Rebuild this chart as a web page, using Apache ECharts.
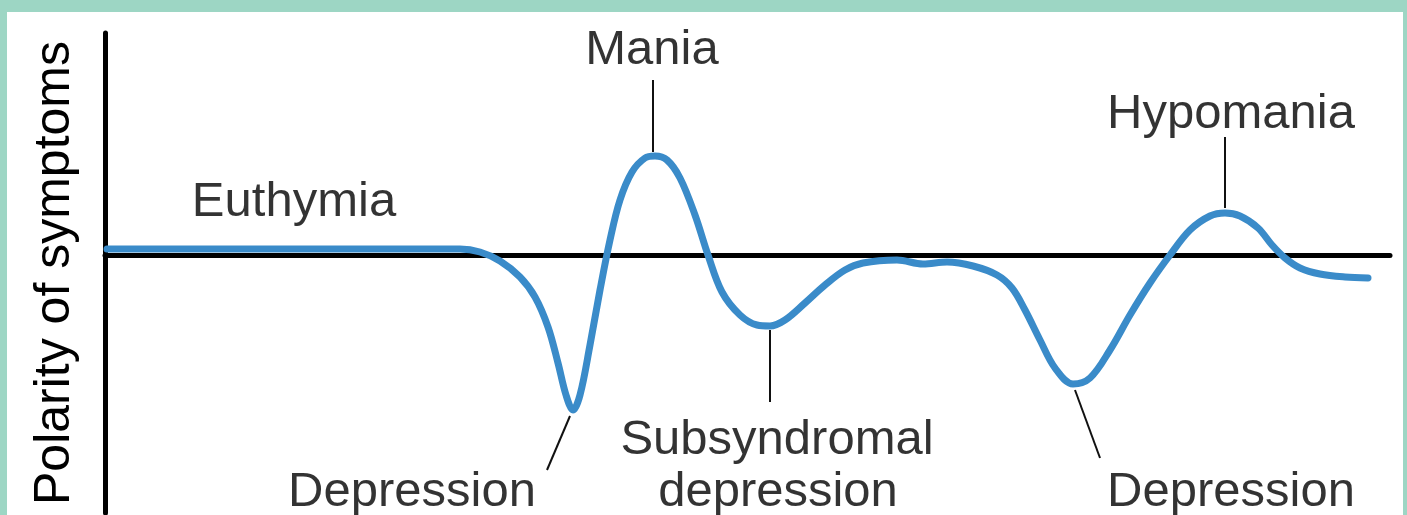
<!DOCTYPE html>
<html>
<head>
<meta charset="utf-8">
<script src="https://cdn.jsdelivr.net/npm/echarts@6/dist/echarts.min.js"></script>
<style>
html,body{margin:0;padding:0;width:1407px;height:515px;background:#9dd6c4;overflow:hidden;}
#chart{position:absolute;left:7px;top:12px;width:1396px;height:503px;background:#ffffff;}
</style>
</head>
<body>
<div id="chart"></div>
<script>
// Time (arbitrary units) and polarity of symptoms
const time = [2,95,195,295,355,375,395,415,430,443,453,461,468,475,485,495,505,515,527,540,550,562,575,590,603,617,635,652,665,680,700,720,740,758,792,818,842,868,892,907,920,935,950,968,985,1005,1025,1045,1065,1085,1105,1120,1135,1153,1167,1180,1195,1215,1240,1263];
const polarity = [6,6,6,6,6,3,-6,-22,-42,-72,-108,-140,-155,-140,-90,-35,15,55,83,97,99,95,77,40,0,-37,-60,-70,-71,-65,-48,-30,-15,-8,-5,-9,-7,-11,-20,-33,-55,-85,-113,-129,-123,-95,-60,-28,0,25,39,42,39,27,10,-3,-13,-19,-22,-23];

const labelTexts = ['Euthymia','Mania','Hypomania','Subsyndromal','depression','Depression','Depression'];
const labelTime = [189,547,1126,672,673,307,1126];
const labelPolarity = [53,205,141,-185,-237,-237,-237];

// leader lines: from / to points (time, polarity)
const leaderFrom = [[548,175],[665,-75],[465,-161],[970,-135],[1120,118]];
const leaderTo   = [[548,103],[665,-147],[442,-215],[995,-203],[1120,47]];

const yTitle = 'Polarity of symptoms';

const chart = echarts.init(document.getElementById('chart'));
const curve = time.map((t,i)=>[t, polarity[i]]);
const labels = labelTexts.map((s,i)=>[labelTime[i], labelPolarity[i], s]);
const FONT = '"Liberation Sans", Arial, sans-serif';

chart.setOption({
  animation:false,
  backgroundColor:'#ffffff',
  grid:{left:98, top:21, width:1285, height:480},
  xAxis:{type:'value', min:0, max:1285, axisLine:{onZero:true, lineStyle:{color:'#000', width:5}},
    axisTick:{show:false}, axisLabel:{show:false}, splitLine:{show:false}},
  yAxis:{type:'value', min:-258, max:222,
    name: yTitle, nameLocation:'middle', nameGap:25, nameRotate:90,
    nameTextStyle:{fontFamily:FONT, fontSize:50, color:'#000'},
    axisLine:{show:true, lineStyle:{color:'#000', width:5}},
    axisTick:{show:false}, axisLabel:{show:false}, splitLine:{show:false}},
  series:[
    {type:'line', data:curve, smooth:0.35, showSymbol:false, symbol:'none',
     lineStyle:{color:'#3a8bc9', width:7, cap:'round', join:'round'}, z:3,
     markLine:{silent:true, symbol:['none','none'],
       lineStyle:{color:'#111', width:2, type:'solid'}, label:{show:false},
       data: leaderFrom.map((p,i)=>[{coord:p},{coord:leaderTo[i]}])}
    },
    {type:'scatter', data:labels, symbolSize:0, silent:true,
     label:{show:true, position:'inside', formatter:p=>p.data[2],
       fontFamily:FONT, fontSize:49, color:'#000', align:'center', verticalAlign:'middle'}}
  ]
});
</script>
</body>
</html>
